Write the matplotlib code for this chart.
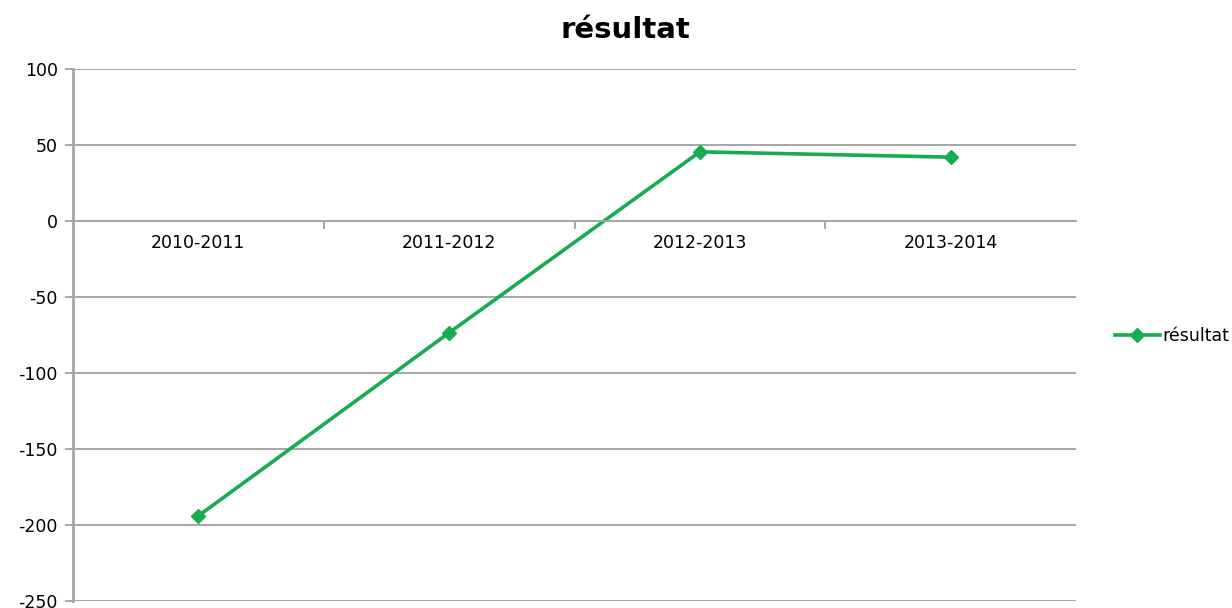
import numpy as np
import matplotlib.pyplot as plt
from matplotlib.lines import Line2D

periods = ["2010-2011", "2011-2012", "2012-2013", "2013-2014"]
resultat = [-194, -73.5, 45.5, 42]
y_ticks = [100, 50, 0, -50, -100, -150, -200, -250]

green = "#17AC4F"
grey = "#A6A6A6"

plt.rcParams["font.family"] = ["DejaVu Sans"]
plt.rcParams["axes.unicode_minus"] = False

fig = plt.figure(figsize=(12.32, 6.08), dpi=100)
ax = fig.add_axes([73 / 1232, 1 - 601 / 608, (1076 - 73) / 1232, (601 - 69) / 608])

x = np.arange(len(periods))
ax.plot(x, resultat, color=green, lw=2.6, marker="D", ms=7, label="résultat")

ax.set_xlim(-0.5, len(periods) - 0.5)
ax.set_ylim(min(y_ticks), max(y_ticks))
ax.set_yticks(y_ticks)
ax.yaxis.grid(True, color=grey, lw=1.4)
ax.set_axisbelow(True)
ax.tick_params(axis="y", length=6, width=1.4, color=grey, labelsize=12.5, pad=5)

# x axis crosses at zero, ticks between categories
ax.spines["bottom"].set_position(("data", 0))
ax.spines["bottom"].set_color(grey)
ax.spines["bottom"].set_linewidth(1.4)
ax.spines["left"].set_color(grey)
ax.spines["left"].set_linewidth(2)
ax.spines["top"].set_visible(False)
ax.spines["right"].set_visible(False)
ax.set_xticks(x[:-1] + 0.5)
ax.set_xticks(x, minor=True)
ax.set_xticklabels([])
ax.set_xticklabels(periods, minor=True)
ax.tick_params(axis="x", which="major", length=6, width=1.4, color=grey)
ax.tick_params(axis="x", which="minor", length=0, labelsize=12.5, pad=9)

fig.text(625 / 1232, 1 - 30 / 608, "résultat", ha="center", va="center",
         fontsize=21, fontweight="bold")

handle = Line2D([], [], color=green, lw=2.6, marker="D", ms=7)
fig.legend([handle], ["résultat"], loc="center left",
           bbox_to_anchor=(1106 / 1232, 1 - 336 / 608), frameon=False,
           fontsize=12.5, handlelength=2.6, handletextpad=0.15, borderpad=0)

fig.savefig("out.png", dpi=100)
